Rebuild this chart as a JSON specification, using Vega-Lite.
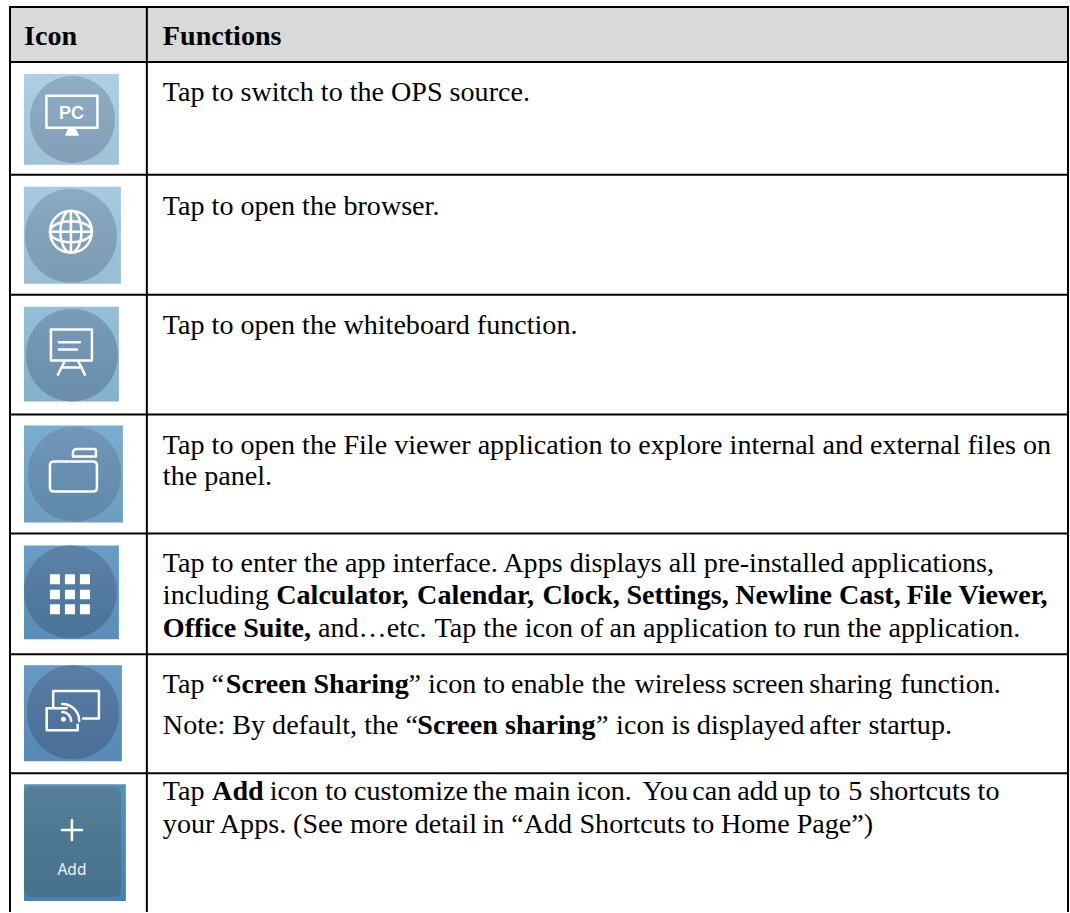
{
"$schema":"https://vega.github.io/schema/vega-lite/v6.json",
"width":1070,"height":913,"padding":0,"background":"white",
"autosize":{"type":"fit","contains":"padding"},
"config":{"view":{"stroke":null}},
"datasets":{
"header":[{"left":10,"right":1069,"top":7,"bottom":62}],
"tiles":[
{"part":"t1","left":24,"right":119,"top":74,"bottom":165},
{"part":"t2","left":24,"right":121,"top":187,"bottom":284},
{"part":"t3","left":24,"right":119,"top":307,"bottom":402},
{"part":"t4","left":24,"right":123,"top":426,"bottom":523},
{"part":"t5","left":24,"right":119,"top":546,"bottom":640},
{"part":"t6","left":24,"right":122,"top":666,"bottom":762},
{"part":"t7","left":24,"right":126,"top":785,"bottom":902}],
"circles":[
{"part":"c1","left":30,"right":115,"top":76,"bottom":163},
{"part":"c2","left":25,"right":117,"top":189,"bottom":283},
{"part":"c3","left":26,"right":118,"top":309,"bottom":402},
{"part":"c4","left":28,"right":121,"top":427,"bottom":522},
{"part":"c5","left":24,"right":117,"top":546,"bottom":639},
{"part":"c6","left":27,"right":119,"top":666,"bottom":760}],
"addbox":[{"part":"a7","left":24,"right":121,"top":787,"bottom":898}],
"outlines":[
{"glyph":"monitor","cx":72,"cy":116},
{"glyph":"globe","cx":71,"cy":232},
{"glyph":"board","cx":72,"cy":352},
{"glyph":"folder","cx":74,"cy":474},
{"glyph":"cast","cx":73,"cy":713},
{"glyph":"plus","cx":72,"cy":831}],
"solids":[
{"glyph":"stand","cx":72,"cy":116},
{"glyph":"grid","cx":70,"cy":595},
{"glyph":"dot","cx":73,"cy":713}],
"iconText":[
{"label":"PC","cx":71.5,"base":119},
{"label":"Add","cx":72,"base":876}],
"lines":[
{"x1":9,"x2":1070,"y":7},{"x1":9,"x2":1070,"y":62},{"x1":9,"x2":1070,"y":175},{"x1":9,"x2":1070,"y":295},
{"x1":9,"x2":1070,"y":415},{"x1":9,"x2":1070,"y":534},{"x1":9,"x2":1070,"y":655},{"x1":9,"x2":1070,"y":774}],
"vlines":[{"x":10,"y1":6,"y2":913},{"x":147,"y1":6,"y2":913},{"x":1069,"y1":6,"y2":913}],
"runs":[
{"t":"Tap to switch to the OPS source.","x":163,"y":101},
{"t":"Tap to open the browser.","x":163,"y":215},
{"t":"Tap to open the whiteboard function.","x":163,"y":334},
{"t":"Tap to open the File viewer application to explore internal and external files on","x":163,"y":454},
{"t":"the panel.","x":163,"y":486},
{"t":"Tap to enter the app interface. Apps displays all pre-installed applications,","x":163,"y":572.5},
{"t":"including","x":163,"y":605},
{"t":"and…etc.","x":318.3,"y":638},
{"t":"Tap the icon of","x":435,"y":638},
{"t":"an application","x":610,"y":638},
{"t":"to run","x":775,"y":638},
{"t":"the application.","x":848,"y":638},
{"t":"Tap “","x":163,"y":694},
{"t":"”","x":409,"y":694},
{"t":"icon to","x":428.3,"y":694},
{"t":"enable","x":511.5,"y":694},
{"t":"the","x":592,"y":694},
{"t":"wireless","x":635,"y":694},
{"t":"screen","x":733,"y":694},
{"t":"sharing","x":810,"y":694},
{"t":"function.","x":901,"y":694},
{"t":"Note: By default, the “","x":163,"y":735},
{"t":"”","x":596.5,"y":735},
{"t":"icon is","x":616.7,"y":735},
{"t":"displayed","x":697.5,"y":735},
{"t":"after","x":810,"y":735},
{"t":"startup.","x":869.3,"y":735},
{"t":"Tap","x":163,"y":801},
{"t":"icon to customize","x":270,"y":801},
{"t":"the","x":473.5,"y":801},
{"t":"main","x":514.5,"y":801},
{"t":"icon.","x":577,"y":801},
{"t":"You","x":643,"y":801},
{"t":"can","x":693,"y":801},
{"t":"add","x":738,"y":801},
{"t":"up to","x":784,"y":801},
{"t":"5 shortcuts","x":849,"y":801},
{"t":"to","x":978.5,"y":801},
{"t":"your Apps.","x":163,"y":834},
{"t":"(See more detail","x":293.3,"y":834},
{"t":"in","x":483,"y":834},
{"t":"“Add","x":511.7,"y":834},
{"t":"Shortcuts","x":580,"y":834},
{"t":"to","x":693,"y":834},
{"t":"Home Page”)","x":721.7,"y":834}],
"boldRuns":[
{"t":"Icon","x":24,"y":45},
{"t":"Functions","x":163,"y":45},
{"t":"Calculator,","x":276.5,"y":605},
{"t":"Calendar,","x":417.5,"y":605},
{"t":"Clock,","x":543,"y":605},
{"t":"Settings,","x":627,"y":605},
{"t":"Newline Cast,","x":736,"y":605},
{"t":"File Viewer,","x":907.5,"y":605},
{"t":"Office Suite,","x":163,"y":638},
{"t":"Screen Sharing","x":226,"y":694},
{"t":"Screen sharing","x":417.7,"y":735},
{"t":"Add","x":212.3,"y":801}]
},
"encoding":{},
"layer":[
{"data":{"name":"header"},"mark":{"type":"rect","color":"#d9d9d9"},
 "encoding":{"x":{"field":"left","type":"quantitative","scale":{"domain":[0,1070],"nice":false,"zero":false},"axis":null},"x2":{"field":"right"},
 "y":{"field":"top","type":"quantitative","scale":{"domain":[0,913],"nice":false,"zero":false,"reverse":true},"axis":null},"y2":{"field":"bottom"}}},
{"data":{"name":"tiles"},"mark":{"type":"rect"},
 "encoding":{"x":{"field":"left","type":"quantitative","axis":null},"x2":{"field":"right"},"y":{"field":"top","type":"quantitative","axis":null},"y2":{"field":"bottom"},
 "color":{"field":"part","type":"nominal","legend":null,"scale":{"domain":["t1","t2","t3","t4","t5","t6","t7","c1","c2","c3","c4","c5","c6","a7"],"range":["#a8cde2","#a0c8df","#8ebbd6","#72a7cd","#5e96c2","#5c91bf","#478bb9","#88a8c0","#82a4bf","#7096b4","#6690b3","#5079a3","#4d75a0","#4a7693"]}}}},
{"data":{"name":"circles"},"mark":{"type":"rect","cornerRadius":47},
 "encoding":{"x":{"field":"left","type":"quantitative","axis":null},"x2":{"field":"right"},"y":{"field":"top","type":"quantitative","axis":null},"y2":{"field":"bottom"},
 "color":{"field":"part","type":"nominal","legend":null,"scale":{"domain":["t1","t2","t3","t4","t5","t6","t7","c1","c2","c3","c4","c5","c6","a7"],"range":["#a8cde2","#a0c8df","#8ebbd6","#72a7cd","#5e96c2","#5c91bf","#478bb9","#88a8c0","#82a4bf","#7096b4","#6690b3","#5079a3","#4d75a0","#4a7693"]}}}},
{"data":{"name":"addbox"},"mark":{"type":"rect","cornerRadius":7},
 "encoding":{"x":{"field":"left","type":"quantitative","axis":null},"x2":{"field":"right"},"y":{"field":"top","type":"quantitative","axis":null},"y2":{"field":"bottom"},
 "color":{"field":"part","type":"nominal","legend":null,"scale":{"domain":["t1","t2","t3","t4","t5","t6","t7","c1","c2","c3","c4","c5","c6","a7"],"range":["#a8cde2","#a0c8df","#8ebbd6","#72a7cd","#5e96c2","#5c91bf","#478bb9","#88a8c0","#82a4bf","#7096b4","#6690b3","#5079a3","#4d75a0","#4a7693"]}}}},
{"data":{"name":"tiles"},"mark":{"type":"rect","color":{"gradient":"linear","x1":0,"y1":0,"x2":0,"y2":1,"stops":[{"offset":0,"color":"rgba(255,255,255,0.07)"},{"offset":1,"color":"rgba(0,0,0,0.05)"}]}},
 "encoding":{"x":{"field":"left","type":"quantitative","axis":null},"x2":{"field":"right"},"y":{"field":"top","type":"quantitative","axis":null},"y2":{"field":"bottom"}}},
{"data":{"name":"outlines"},"mark":{"type":"point","filled":false,"stroke":"white","strokeWidth":2.5,"opacity":1,"size":2500,"strokeCap":"round","strokeJoin":"round"},
 "encoding":{"x":{"field":"cx","type":"quantitative","axis":null},"y":{"field":"cy","type":"quantitative","axis":null},
 "shape":{"field":"glyph","type":"nominal","legend":null,"scale":{"domain":["monitor","globe","board","folder","cast","plus"],"range":[
 "M-1.02 -.8L1.02 -.8L1.02 .48L-1.02 .48Z",
 "M-.84 0A.84 .84 0 1 1 .84 0A.84 .84 0 1 1 -.84 0ZM0 -.84A.42 .84 0 1 1 0 .84A.42 .84 0 1 1 0 -.84ZM-.84 0A.84 .42 0 1 1 .84 0A.84 .42 0 1 1 -.84 0ZM0 -.84L0 .84M-.84 0L.84 0",
 "M-.84 -.88L.8 -.88L.8 .36L-.84 .36ZM-.52 -.37L.32 -.37M-.52 -.08L.2 -.08M-.28 .36L-.56 .92M.24 .36L.52 .92M-.4 .64L.4 .64",
 "M-.8 -.48L.76 -.48Q.92 -.48 .92 -.32L.92 .56Q.92 .72 .76 .72L-.8 .72Q-.96 .72 -.96 .56L-.96 -.32Q-.96 -.48 -.8 -.48ZM-.04 -.68L.88 -.68L.88 -.9Q.88 -.98 .8 -.98L.1 -.98Q0 -.98 -.04 -.85Z",
 "M-.79 -.19L-.79 -.85L1.04 -.85L1.04 .25L.41 .25M-.25 -.16L-1.05 -.16L-1.05 .72L.19 .72L.19 .5M-.43 -.33A.68 .68 0 0 1 .25 .35M-.43 -.01A.36 .36 0 0 1 -.07 .35",
 "M-.4 0L.4 0M0 -.4L0 .4"]}}}},
{"data":{"name":"solids"},"mark":{"type":"point","filled":true,"fill":"white","opacity":1,"size":2500,"strokeWidth":0},
 "encoding":{"x":{"field":"cx","type":"quantitative","axis":null},"y":{"field":"cy","type":"quantitative","axis":null},
 "shape":{"field":"glyph","type":"nominal","legend":null,"scale":{"domain":["stand","grid","dot"],"range":[
 "M-.16 .52L.16 .52L.28 .8L-.28 .8Z",
 "M-.8 -.8H-.4V-.4H-.8ZM-.2 -.8H.2V-.4H-.2ZM.4 -.8H.8V-.4H.4ZM-.8 -.18H-.4V.2H-.8ZM-.2 -.18H.2V.2H-.2ZM.4 -.18H.8V.2H.4ZM-.8 .4H-.4V.8H-.8ZM-.2 .4H.2V.8H-.2ZM.4 .4H.8V.8H.4Z",
 "M-.48 .28A.1 .1 0 1 1 -.28 .28A.1 .1 0 1 1 -.48 .28Z"]}}}},
{"data":{"name":"iconText"},"transform":[{"filter":"datum.label=='PC'"}],"mark":{"type":"text","color":"white","font":"Liberation Sans","fontWeight":"bold","fontSize":18,"align":"center","baseline":"alphabetic"},
 "encoding":{"x":{"field":"cx","type":"quantitative","axis":null},"y":{"field":"base","type":"quantitative","axis":null},"text":{"field":"label"}}},
{"data":{"name":"iconText"},"transform":[{"filter":"datum.label=='Add'"}],"mark":{"type":"text","color":"#eef3f6","font":"Noto Sans","fontSize":15.5,"align":"center","baseline":"alphabetic"},
 "encoding":{"x":{"field":"cx","type":"quantitative","axis":null},"y":{"field":"base","type":"quantitative","axis":null},"text":{"field":"label"}}},
{"data":{"name":"lines"},"mark":{"type":"rule","color":"black","strokeWidth":2},
 "encoding":{"x":{"field":"x1","type":"quantitative","axis":null},"x2":{"field":"x2"},"y":{"field":"y","type":"quantitative","axis":null}}},
{"data":{"name":"vlines"},"mark":{"type":"rule","color":"black","strokeWidth":2},
 "encoding":{"x":{"field":"x","type":"quantitative","axis":null},"y":{"field":"y1","type":"quantitative","axis":null},"y2":{"field":"y2"}}},
{"data":{"name":"runs"},"mark":{"type":"text","color":"black","font":"Liberation Serif","fontSize":28.1,"align":"left","baseline":"alphabetic"},
 "encoding":{"x":{"field":"x","type":"quantitative","axis":null},"y":{"field":"y","type":"quantitative","axis":null},"text":{"field":"t"}}},
{"data":{"name":"boldRuns"},"mark":{"type":"text","color":"black","font":"Liberation Serif","fontWeight":"bold","fontSize":28.1,"align":"left","baseline":"alphabetic"},
 "encoding":{"x":{"field":"x","type":"quantitative","axis":null},"y":{"field":"y","type":"quantitative","axis":null},"text":{"field":"t"}}}
],
"resolve":{"scale":{"color":"independent","shape":"independent"}}
}
